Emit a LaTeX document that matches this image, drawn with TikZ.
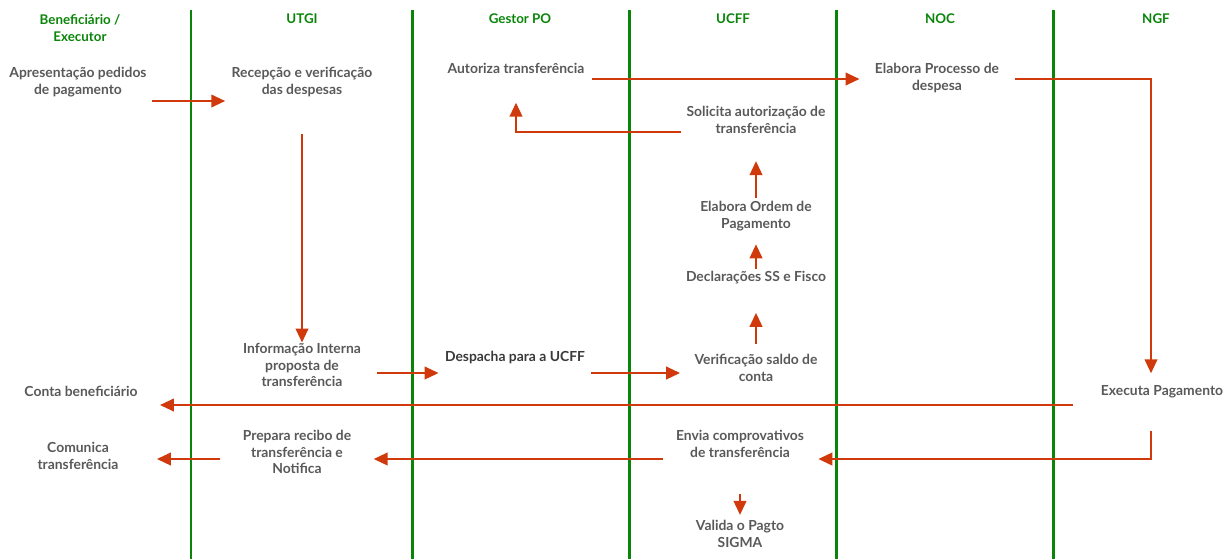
\documentclass[tikz,border=0pt]{standalone}
\usepackage{fontspec}
\setmainfont{Lato}
\usetikzlibrary{positioning,arrows.meta,calc}
\definecolor{lanegreen}{HTML}{0A850A}
\definecolor{flowred}{HTML}{D0390B}
\definecolor{txtgray}{HTML}{595959}
\definecolor{txtdark}{HTML}{3A3A3A}

\begin{document}
\begin{tikzpicture}[x=0.02cm,y=-0.02cm,
      lane/.style={lanegreen,line width=1.7pt},
      head/.style={font=\fontsize{7.6}{9.2}\selectfont\bfseries,text=lanegreen,align=center,inner sep=0pt},
      task/.style={font=\fontsize{7.9}{9.6}\selectfont\bfseries,text=txtgray,align=center,inner sep=0pt},
      flow/.style={flowred,line width=1.6pt,-{Triangle[length=8pt,width=7pt]}}]
    \useasboundingbox (0,0) rectangle (1226,559);
    % swimlanes
    \foreach \x in {191,412,629,836,1053}
      \draw[lane] (\x,10) -- (\x,559);
    \node[head] (hben) at (80,28) {Beneficiário /\\Executor};
    \foreach \x/\t/\n in {302/UTGI/utgi,520/Gestor PO/gpo,733/UCFF/ucff,940/NOC/noc,1156/NGF/ngf}
      \node[head] (h\n) at (\x,19) {\t};
    % tasks
    \node[task] (ap)    at (78,82)   {Apresentação pedidos\\de pagamento};
    \node[task] (rec)   at (302,82)  {Recepção e verificação\\das despesas};
    \node[task] (aut)   at (516,68)  {Autoriza transferência};
    \node[task] (elab)  at (937,78)  {Elabora Processo de\\despesa};
    \node[task] (sol)   at (756,120) {Solicita autorização de\\transferência};
    \node[task] (ord)   at (756,216) {Elabora Ordem de\\Pagamento};
    \node[task] (decl)  at (756,278) {Declarações SS e Fisco};
    \node[task] (info)  at (302,365) {Informação Interna\\proposta de\\transferência};
    \node[task,text=txtdark] (desp) at (515,357) {Despacha para a UCFF};
    \node[task] (ver)   at (756,368) {Verificação saldo de\\conta};
    \node[task] (conta) at (81,391)  {Conta beneficiário};
    \node[task] (exec)  at (1162,392) {Executa Pagamento};
    \node[task] (com)   at (78,456)  {Comunica\\transferência};
    \node[task] (prep)  at (297,452) {Prepara recibo de\\transferência e\\Notifica};
    \node[task] (env)   at (740,444) {Envia comprovativos\\de transferência};
    \node[task] (val)   at (740,534) {Valida o Pagto\\SIGMA};
    % flows
    \draw[flow] ($(ap.east)+(5,19)$) -- ($(rec.west)+(-6,19)$);
    \draw[flow] ($(rec.south)+(0,37)$) -- (info.north);
    \draw[flow] ($(info.east)+(16,8)$) -- ($(desp.west)+(-6,16)$);
    \draw[flow] ($(desp.east)+(6,16)$) -- ($(ver.west)+(-14,5)$);
    \draw[flow] ($(ver.north)+(0,-10)$) -- ($(decl.south)+(0,28)$);
    \draw[flow] ($(decl.north)+(0,-2)$) -- ($(ord.south)+(0,13)$);
    \draw[flow] ($(ord.north)+(0,-3)$) -- ($(sol.south)+(0,27)$);
    \draw[flow] ($(sol.west)+(-5,12)$) -| ($(aut.south)+(0,29)$);
    \draw[flow] ($(aut.east)+(7,11)$) -- ($(elab.west)+(-15,1)$);
    \draw[flow] ($(elab.east)+(16,1)$) -| ($(exec.north)+(-11,-12)$);
    \draw[flow] ($(exec.center)+(-89,13)$) -- ($(conta.east)+(22,14)$);
    \draw[flow] ($(exec.south)+(-11,32)$) |- ($(env.east)+(14,15)$);
    \draw[flow] ($(env.west)+(-13,15)$) -- ($(prep.east)+(22,7)$);
    \draw[flow] ($(prep.west)+(-22,7)$) -- ($(com.east)+(38,3)$);
    \draw[flow] ($(env.south)+(0,36)$) -- ($(val.north)+(0,-5)$);
  \end{tikzpicture}
\end{document}
